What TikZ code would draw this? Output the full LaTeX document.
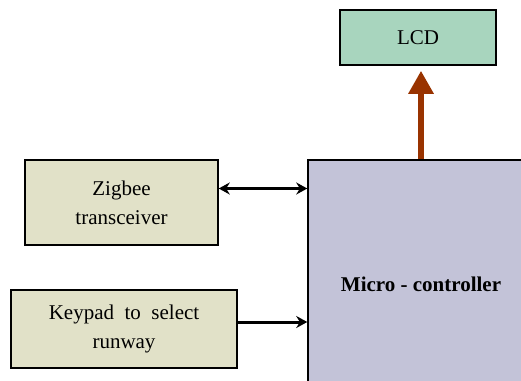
\documentclass[tikz,border=0pt]{standalone}
\usepackage{fontspec}
\setmainfont{Liberation Serif}
\usetikzlibrary{arrows.meta}

\definecolor{lcdgreen}{RGB}{168,213,190}
\definecolor{mcublue}{RGB}{195,195,216}
\definecolor{inbeige}{RGB}{225,225,200}
\definecolor{linkbrown}{RGB}{153,51,0}

\tikzset{
    block/.style={draw, line width=1.5pt, inner sep=0pt, align=center,
        font=\fontsize{21}{29}\selectfont},
    link/.style={line width=3pt, -{Stealth[length=11pt,width=12pt]}},
}

\begin{document}
\begin{tikzpicture}[x=1pt, y=-1pt]
    \clip (0,0) rectangle (521,380);
    \useasboundingbox (0,0) rectangle (521,380);

    % Blocks
    \node[block, fill=lcdgreen, minimum width=156pt, minimum height=55pt] (lcd) at (418,37.5) {LCD};
    \node[block, fill=mcublue, minimum width=226pt, minimum height=248pt] (mcu) at (421,284) {\textbf{Micro - controller}};
    \node[block, fill=inbeige, minimum width=193pt, minimum height=85pt] (zigbee) at (121.5,202.5) {Zigbee\\transceiver};
    \node[block, fill=inbeige, minimum width=226pt, minimum height=78pt] (keypad) at (124,329) {Keypad\ \ to\ \ select\\runway};

    % Connections
    \draw[link, {Stealth[length=11pt,width=12pt]}-{Stealth[length=11pt,width=12pt]}]
        ([yshift=14pt]zigbee.east) -- ([yshift=14pt]zigbee.east -| mcu.west);
    \draw[link] ([yshift=7pt]keypad.east) -- ([yshift=7pt]keypad.east -| mcu.west);
    \draw[linkbrown, line width=6pt, -{Triangle[length=23pt,width=24pt]}]
        (mcu.north) -- ([yshift=-5pt]lcd.south -| mcu.north);
\end{tikzpicture}
\end{document}
